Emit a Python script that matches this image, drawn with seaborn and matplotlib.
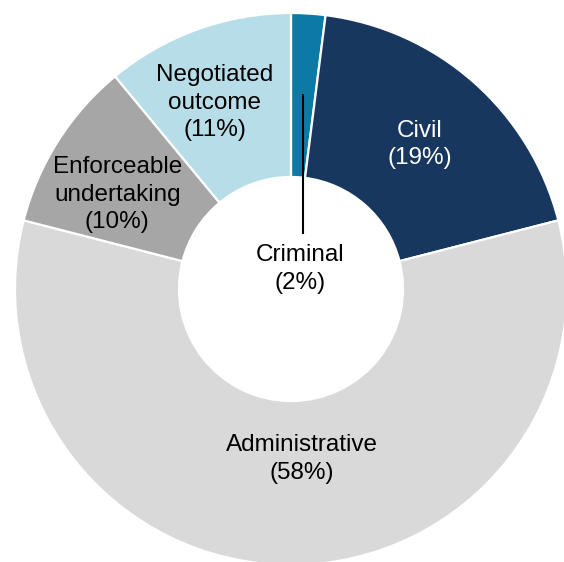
import numpy as np
import matplotlib
matplotlib.use("Agg")
import matplotlib.pyplot as plt
import seaborn as sns

# Enforcement outcomes by type (share of total, %)
categories = ["Criminal", "Civil", "Administrative",
              "Enforceable\nundertaking", "Negotiated\noutcome"]
shares = [2, 19, 58, 10, 11]
colors = ["#0b7ba5", "#17375e", "#d9d9d9", "#a6a6a6", "#b7dee8"]
text_colors = ["black", "white", "black", "black", "black"]

sns.set_theme(style="white")
plt.rcParams["font.family"] = ["Liberation Sans", "DejaVu Sans"]

W, H = 564, 562
fig = plt.figure(figsize=(W / 100, H / 100), dpi=100)
ax = fig.add_axes([0, 0, 1, 1])

cx, cy = 291, H - 289
r_out, r_in = 276, 112

wedges, _ = ax.pie(
    shares, colors=colors, startangle=90, counterclock=False,
    center=(cx, cy), radius=r_out, frame=True,
    wedgeprops=dict(width=r_out - r_in, edgecolor="white", linewidth=1.6),
)
ax.set_xlim(0, W)
ax.set_ylim(0, H)
ax.axis("off")

# label placement: along each wedge's mid-angle, with small nudges (px)
label_r = 195
nudges = {"Civil": (0, -2), "Administrative": (11, 25),
          "Enforceable\nundertaking": (-9, -10), "Negotiated\noutcome": (-10, 3)}
fs = 17.5
ls = 1.32

for w, cat, val, tc in zip(wedges, categories, shares, text_colors):
    mid = np.deg2rad((w.theta1 + w.theta2) / 2)
    px, py = cx + label_r * np.cos(mid), cy + label_r * np.sin(mid)
    label = f"{cat}\n({val}%)"
    if cat == "Criminal":
        # leader from the thin wedge into the centre hole
        ax.plot([px, px], [py, cy + 55], color="black", lw=1.5,
                solid_capstyle="butt")
        ax.text(cx + 9, cy + 20, label, ha="center", va="center",
                fontsize=fs, color=tc, linespacing=ls)
        continue
    dx, dy = nudges.get(cat, (0, 0))
    ax.text(px + dx, py + dy, label, ha="center", va="center",
            fontsize=fs, color=tc, linespacing=ls)

fig.savefig("out.png", dpi=100, facecolor="white")
